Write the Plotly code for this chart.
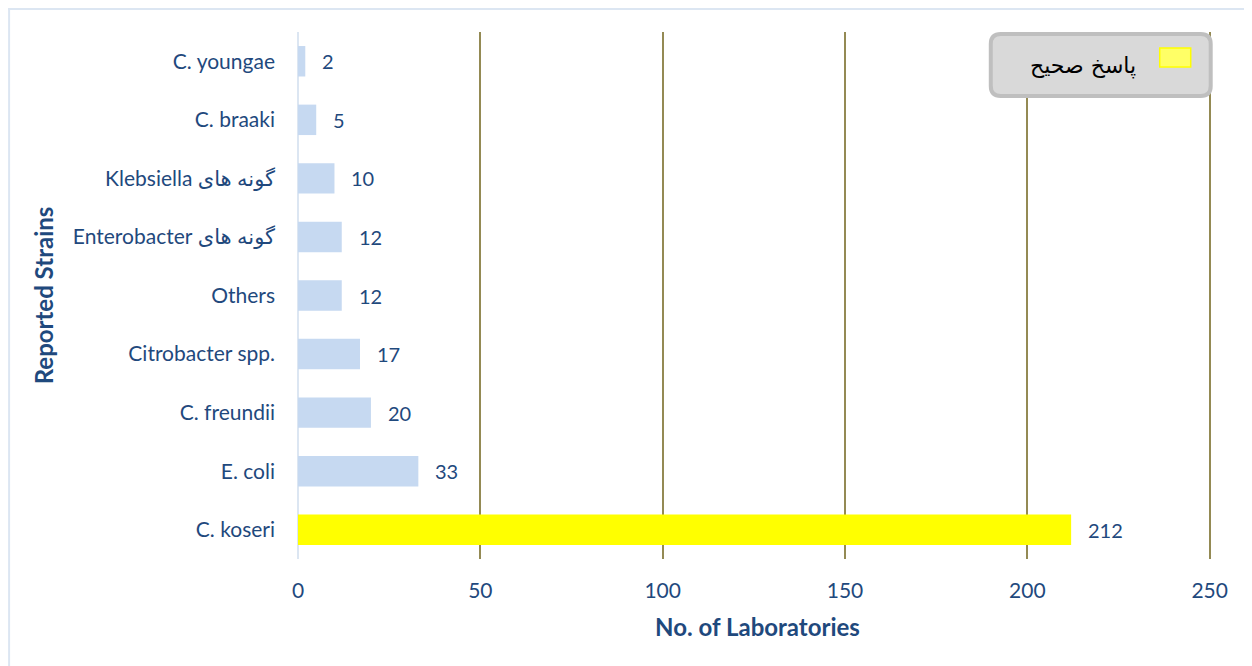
import plotly.graph_objects as go

categories = ["C. koseri", "E. coli", "C. freundii", "Citrobacter spp.", "Others",
              "\u202bگونه های Enterobacter\u202c", "\u202bگونه های Klebsiella\u202c",
              "C. braaki", "C. youngae"]
values = [212, 33, 20, 17, 12, 12, 10, 5, 2]
bar_colors = ["#ffff00", "#c6d9f1", "#c6d9f1", "#c6d9f1", "#c6d9f1",
              "#c6d9f1", "#c6d9f1", "#c6d9f1", "#c6d9f1"]
legend_label = "پاسخ صحیح"
x_ticks = [0, 50, 100, 150, 200, 250]
x_max = 252  # a little past last tick so the 250 gridline is drawn

# page body has an 8px margin; work in page coords and convert
OFF = 8
W, H = 1252 - OFF, 666 - OFF
L = 298 - OFF
PX_PER_UNIT = (1210 - 298) / 250
R = L + PX_PER_UNIT * x_max
T, B = 32 - OFF, 559 - OFF

def px(xpage):
    return (xpage - OFF - L) / (R - L)

def py(ypage):
    return (B - (ypage - OFF)) / (B - T)

TXT = "#1f497d"
FONT = "Lato, 'DejaVu Sans', sans-serif"

fig = go.Figure()
fig.add_trace(go.Bar(
    x=values, y=categories, orientation="h",
    marker=dict(color=bar_colors, line=dict(width=0)),
    width=0.52, showlegend=False, hoverinfo="x+y",
))

annotations = []
for c, v in zip(categories, values):
    annotations.append(dict(
        x=v, y=c, xref="x", yref="y", text=str(v), showarrow=False,
        xanchor="left", yanchor="middle", xshift=15,
        font=dict(size=20, color=TXT, family=FONT),
    ))

# legend drawn as a rounded box
x0, x1 = px(991), px(1211)
y0, y1 = py(96), py(34)
r = 10
rx = r / (R - L)
ry = r / (B - T)
path = (f"M {x0+rx},{y1} L {x1-rx},{y1} Q {x1},{y1} {x1},{y1-ry} "
        f"L {x1},{y0+ry} Q {x1},{y0} {x1-rx},{y0} "
        f"L {x0+rx},{y0} Q {x0},{y0} {x0},{y0+ry} "
        f"L {x0},{y1-ry} Q {x0},{y1} {x0+rx},{y1} Z")
shapes = [
    dict(type="path", path=path, xref="paper", yref="paper",
         fillcolor="#d9d9d9", line=dict(color="#bfbfbf", width=4), layer="above"),
    dict(type="rect", xref="paper", yref="paper",
         x0=px(1160), x1=px(1191), y0=py(67), y1=py(48),
         fillcolor="#ffff66", line=dict(color="#ffff00", width=1.5), layer="above"),
    # outer chart border
    dict(type="line", xref="paper", yref="paper", x0=px(8), x1=px(1270), y0=py(9), y1=py(9),
         line=dict(color="#dce6f2", width=2)),
    dict(type="line", xref="paper", yref="paper", x0=px(9), x1=px(9), y0=py(8), y1=py(690),
         line=dict(color="#dce6f2", width=2)),
]
annotations.append(dict(
    x=px(1138), y=py(66), xref="paper", yref="paper", text=legend_label,
    showarrow=False, xanchor="right", yanchor="middle",
    font=dict(size=22, color="#000000", family="'DejaVu Sans', sans-serif"),
))

fig.update_layout(
    width=W, height=H,
    margin=dict(l=L, r=W - R, t=T, b=H - B, pad=0),
    paper_bgcolor="white", plot_bgcolor="white",
    font=dict(family=FONT, color=TXT, size=21),
    shapes=shapes,
    annotations=annotations,
    showlegend=False,
)
fig.update_xaxes(
    range=[0, x_max], tickvals=x_ticks, ticktext=[str(t) for t in x_ticks],
    showgrid=True, gridcolor="#948a54", gridwidth=2,
    zeroline=True, zerolinecolor="#dce6f2", zerolinewidth=2,
    showline=False, ticks="", ticklabelstandoff=17,
    tickfont=dict(size=21, color=TXT, family=FONT),
    title=dict(text="<b>No. of Laboratories</b>", font=dict(size=24, color=TXT, family=FONT),
               standoff=18),
)
fig.update_yaxes(
    categoryorder="array", categoryarray=categories,
    range=[-0.5, len(categories) - 0.5],
    showgrid=False, zeroline=False, showline=False, ticks="",
    ticklabelstandoff=22,
    tickfont=dict(size=21, color=TXT, family=FONT),
    title=dict(text="<b>Reported Strains</b>", font=dict(size=24, color=TXT, family=FONT),
               standoff=12),
)

fig.write_html("out.html")
